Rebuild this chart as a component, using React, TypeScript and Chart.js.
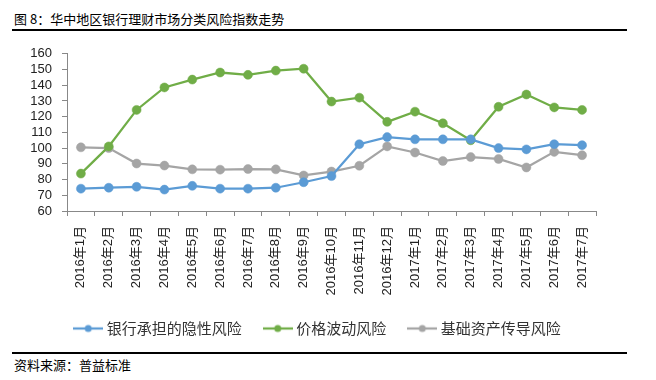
import React, { useEffect, useRef } from "react";
import { Chart, registerables } from "chart.js";

Chart.register(...registerables);

const categories = [
  "2016年1月", "2016年2月", "2016年3月", "2016年4月", "2016年5月", "2016年6月",
  "2016年7月", "2016年8月", "2016年9月", "2016年10月", "2016年11月", "2016年12月",
  "2017年1月", "2017年2月", "2017年3月", "2017年4月", "2017年5月", "2017年6月", "2017年7月",
];

const hiddenRisk = [74.2, 74.8, 75.4, 73.6, 76.0, 74.2, 74.2, 74.8, 78.3, 82.2, 102.5, 107.0, 105.6, 105.6, 105.6, 100.0, 99.2, 102.5, 101.9];
const priceRisk = [83.8, 101.1, 124.3, 138.6, 143.6, 148.1, 146.6, 149.3, 150.5, 129.6, 132.1, 116.7, 123.2, 115.8, 105.0, 126.3, 134.1, 125.9, 124.3];
const assetRisk = [100.5, 100.0, 90.2, 88.9, 86.5, 86.3, 86.7, 86.5, 82.6, 85.1, 88.8, 101.1, 97.2, 91.8, 94.3, 93.1, 87.7, 97.6, 95.5];

const seriesNames = ["银行承担的隐性风险", "价格波动风险", "基础资产传导风险"];
const seriesColors = ["#5B9BD5", "#70AD47", "#A5A5A5"];

const yMin = 60;
const yMax = 160;
const yStep = 10;

const titleText = "图 8：华中地区银行理财市场分类风险指数走势";
const sourceText = "资料来源：普益标准";

const FONT = "'Liberation Sans', Arial, 'Noto Sans CJK SC', sans-serif";
const CJK = "'Noto Sans CJK SC', 'Liberation Sans', sans-serif";

function makeLegendIcon(color: string): HTMLCanvasElement {
  const c = document.createElement("canvas");
  c.width = 30;
  c.height = 10;
  const ctx = c.getContext("2d")!;
  ctx.strokeStyle = color;
  ctx.lineWidth = 2.25;
  ctx.beginPath();
  ctx.moveTo(0, 5);
  ctx.lineTo(30, 5);
  ctx.stroke();
  ctx.fillStyle = color;
  ctx.beginPath();
  ctx.arc(15, 5, 3.5, 0, Math.PI * 2);
  ctx.fill();
  return c;
}

export default function App() {
  const canvasRef = useRef<HTMLCanvasElement | null>(null);

  useEffect(() => {
    const canvas = canvasRef.current;
    if (!canvas) return;
    const icons = seriesColors.map(makeLegendIcon);
    const values = [hiddenRisk, priceRisk, assetRisk];
    const chart = new Chart(canvas, {
      type: "line",
      data: {
        labels: categories,
        datasets: values.map((v, i) => ({
          label: seriesNames[i],
          data: v,
          borderColor: seriesColors[i],
          backgroundColor: seriesColors[i],
          pointBackgroundColor: seriesColors[i],
          pointBorderColor: seriesColors[i],
          borderWidth: 2.25,
          pointRadius: 4.5,
          pointBorderWidth: 0.5,
          tension: 0,
          fill: false,
        })),
      },
      options: {
        animation: false,
        responsive: false,
        devicePixelRatio: 1,
        layout: { padding: { top: 12, left: 0, right: 0, bottom: 0 } },
        plugins: {
          tooltip: { enabled: false },
          title: { display: false },
          legend: {
            display: true,
            position: "bottom",
            align: "center",
            labels: {
              usePointStyle: true,
              pointStyleWidth: 22,
              padding: 25,
              color: "#333",
              font: { size: 15, family: CJK },
              generateLabels: (ch: any) =>
                ch.data.datasets.map((ds: any, i: number) => ({
                  text: ds.label,
                  fillStyle: ds.borderColor,
                  strokeStyle: ds.borderColor,
                  lineWidth: 0,
                  pointStyle: icons[i],
                  hidden: false,
                  datasetIndex: i,
                  fontColor: "#333",
                })),
            },
          },
        },
        scales: {
          x: {
            type: "category",
            offset: true,
            grid: { display: true, drawOnChartArea: false, drawTicks: true, tickLength: 5, color: "#888", offset: true },
            border: { display: true, color: "#888", width: 1 },
            ticks: {
              autoSkip: false,
              maxRotation: 90,
              minRotation: 90,
              padding: 10,
              color: "#222",
              font: { size: 13, family: FONT },
            },
            afterFit: (s: any) => {
              s.height = 85;
            },
          },
          y: {
            type: "linear",
            min: yMin,
            max: yMax,
            grid: { display: true, drawOnChartArea: false, drawTicks: true, tickLength: 5, color: "#888" },
            border: { display: true, color: "#888", width: 1 },
            ticks: {
              stepSize: yStep,
              autoSkip: false,
              maxTicksLimit: 20,
              padding: 10,
              color: "#222",
              font: { size: 13, family: FONT },
            },
            afterFit: (s: any) => {
              s.width = 67;
            },
          },
          yR: {
            type: "linear",
            position: "right",
            display: true,
            grid: { display: false, drawTicks: false },
            border: { display: false },
            ticks: { display: false },
            afterFit: (s: any) => {
              s.width = 42;
            },
          },
        },
      } as any,
    });
    return () => chart.destroy();
  }, []);

  return (
    <div style={{ position: "absolute", left: 0, top: 0, width: 656, height: 380, background: "#fff", overflow: "hidden" }}>
      <div
        style={{
          position: "absolute",
          left: 14,
          top: 11,
          fontFamily: CJK,
          fontSize: 13,
          lineHeight: "15px",
          color: "#000",
          whiteSpace: "nowrap",
        }}
      >
        {titleText}
      </div>
      <div style={{ position: "absolute", left: 12, top: 29, width: 615, height: 1.5, background: "#000" }} />
      <canvas ref={canvasRef} width={638} height={310} style={{ position: "absolute", left: 0, top: 36, width: 638, height: 310 }} />
      <div style={{ position: "absolute", left: 12, top: 352, width: 615, height: 1.5, background: "#000", zIndex: 2 }} />
      <div
        style={{
          position: "absolute",
          left: 14,
          top: 357,
          fontFamily: CJK,
          fontSize: 13,
          lineHeight: "15px",
          color: "#000",
          whiteSpace: "nowrap",
        }}
      >
        {sourceText}
      </div>
    </div>
  );
}
